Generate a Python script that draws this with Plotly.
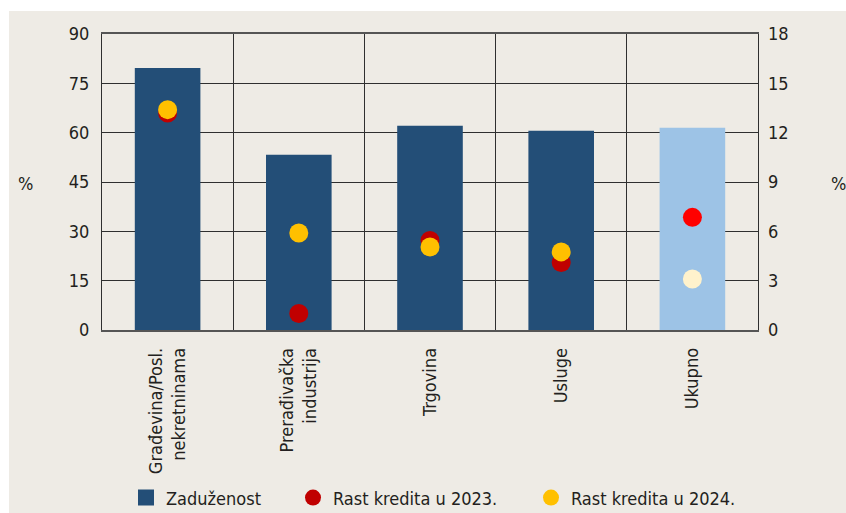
import plotly.graph_objects as go

categories = ["Građevina/Posl.<br>nekretninama", "Prerađivačka<br>industrija", "Trgovina", "Usluge", "Ukupno"]
zaduzenost = [79.7, 53.3, 62.1, 60.6, 61.5]
rast_2023 = [13.2, 1.0, 5.45, 4.1, 6.85]
rast_2024 = [13.4, 5.9, 5.05, 4.75, 3.1]

FONT = "DejaVu Sans Condensed, Liberation Sans Narrow, sans-serif"
TXT = "#231f20"
BG = "#eeebe5"
GRID = "#2f2f2f"

bar_colors = ["#234e77"] * 4 + ["#9dc3e6"]
c2023 = ["#c00000"] * 4 + ["#ff0000"]
c2024 = ["#ffc000"] * 4 + ["#fff2cc"]

# capture appears to be 529 px tall, resized to 513 -> scale vertical geometry
S = 529 / 513
W, H = 846, 529
L, R = 102, 88
T, B = round(33 * S), round((513 - 330) * S)
pw, ph = W - L - R, H - T - B

def px(x):
    return (x - L) / pw

def py(y):
    return (H - B - y * S) / ph

fig = go.Figure()
fig.add_trace(go.Bar(x=categories, y=zaduzenost, name="Zaduženost", showlegend=False,
                     marker=dict(color=bar_colors, line=dict(width=0)),
                     width=0.5))
fig.add_trace(go.Scatter(x=[None], y=[None], name="Zaduženost", mode="markers",
                         marker=dict(color=bar_colors[0], symbol="square", size=16),
                         legend="legend"))
fig.add_trace(go.Scatter(x=categories, y=rast_2023, name="Rast kredita u 2023.",
                         mode="markers", yaxis="y2",
                         marker=dict(color=c2023, size=19, line=dict(width=0)),
                         legend="legend2"))
fig.add_trace(go.Scatter(x=categories, y=rast_2024, name="Rast kredita u 2024.",
                         mode="markers", yaxis="y2",
                         marker=dict(color=c2024, size=19, line=dict(width=0)),
                         legend="legend3"))

leg = dict(orientation="h", yanchor="middle", xanchor="left", itemsizing="trace",
           bgcolor="rgba(0,0,0,0)", font=dict(family=FONT, size=18, color=TXT))

fig.update_layout(
    width=W, height=H,
    margin=dict(l=L, r=R, t=T, b=B),
    paper_bgcolor=BG, plot_bgcolor=BG,
    font=dict(family=FONT, size=18, color=TXT),
    showlegend=True,
    xaxis=dict(type="category", tickangle=-90, tickson="boundaries",
               showgrid=True, gridcolor=GRID, gridwidth=1,
               showline=True, linecolor="#555555", linewidth=1.5, mirror=True,
               ticks="", ticklabelstandoff=9,
               tickfont=dict(size=18, color=TXT), zeroline=False),
    yaxis=dict(range=[0, 90], dtick=15, showgrid=True, gridcolor=GRID, gridwidth=1,
               showline=True, linecolor=GRID, linewidth=1, mirror=True,
               ticks="", ticklabelstandoff=8, zeroline=False,
               tickfont=dict(size=18, color=TXT)),
    yaxis2=dict(range=[0, 18], dtick=3, overlaying="y", side="right",
                showgrid=False, zeroline=False, showline=False, ticks="",
                ticklabelstandoff=9, tickfont=dict(size=18, color=TXT)),
    legend=dict(leg, x=px(126), y=py(498)),
    legend2=dict(leg, x=px(293), y=py(498)),
    legend3=dict(leg, x=px(531), y=py(498)),
    shapes=[
        dict(type="rect", xref="paper", yref="paper", x0=px(0), x1=px(W), y0=py(10), y1=py(-5),
             fillcolor="white", line=dict(width=0), layer="above"),
        dict(type="rect", xref="paper", yref="paper", x0=px(-5), x1=px(9), y0=py(520), y1=py(-5),
             fillcolor="white", line=dict(width=0), layer="above"),
    ],
    annotations=[
        dict(text="%", xref="paper", yref="paper", x=px(25), y=py(183), showarrow=False,
             xanchor="center", yanchor="middle",
             font=dict(family=FONT, size=18, color=TXT)),
        dict(text="%", xref="paper", yref="paper", x=px(838), y=py(183), showarrow=False,
             xanchor="center", yanchor="middle",
             font=dict(family=FONT, size=18, color=TXT)),
    ],
)

fig.write_html("out.html", config={"displayModeBar": False},
               post_script="document.body.style.margin='0';document.body.style.overflow='hidden';")
